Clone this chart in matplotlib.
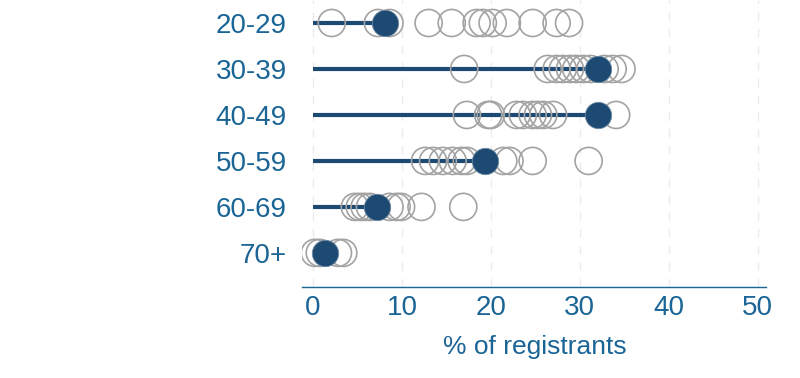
import matplotlib
matplotlib.use("Agg")
import matplotlib.pyplot as plt

plt.rcParams['font.family'] = ['Liberation Sans', 'DejaVu Sans']

categories = ["20-29", "30-39", "40-49", "50-59", "60-69", "70+"]
highlight = [8.1, 32.1, 32.1, 19.3, 7.2, 1.3]
others = [
    [2.1, 7.3, 8.6, 13.0, 15.6, 18.4, 19.1, 20.2, 21.8, 24.7, 27.4, 28.8],
    [17.0, 26.4, 27.4, 28.1, 28.9, 29.6, 30.4, 31.2, 32.8, 33.7, 34.7],
    [17.3, 19.7, 20.0, 22.9, 23.6, 24.7, 25.3, 25.9, 27.0, 34.1],
    [12.6, 13.5, 14.6, 15.7, 16.7, 17.3, 21.4, 22.1, 24.7, 31.0],
    [4.7, 5.25, 5.8, 6.4, 8.6, 9.4, 9.9, 12.2, 16.9],
    [0.2, 0.75, 2.8, 3.4],
]
xticks = [0, 10, 20, 30, 40, 50]
xlabel = "% of registrants"

text_color = "#1a6496"
dark = "#1d4a73"
grey = "#a3a3a3"

fig = plt.figure(figsize=(8, 3.78), dpi=100)
ax = fig.add_axes([0.378, 0.241, 0.58, 0.759])

for i, cat in enumerate(categories):
    ax.plot([0, highlight[i]], [i, i], color=dark, lw=3, solid_capstyle='butt', zorder=2)
    ax.scatter(others[i], [i] * len(others[i]), s=380, facecolors='none',
               edgecolors=grey, linewidths=1.2, zorder=3)
    ax.scatter([highlight[i]], [i], s=360, color=dark, edgecolors='#6f8aa3',
               linewidths=0.6, zorder=4)

ax.set_xlim(-1.2, 51.0)
ax.set_ylim(5.74, -0.5)
ax.set_yticks(range(len(categories)))
ax.set_yticklabels(categories)
ax.set_xticks(xticks)
ax.set_xticklabels([str(t) for t in xticks])
ax.set_xlabel(xlabel, fontsize=19, color=text_color, labelpad=10)

for sp in ['top', 'right', 'left']:
    ax.spines[sp].set_visible(False)
ax.spines['bottom'].set_color(text_color)
ax.spines['bottom'].set_linewidth(1.0)

ax.tick_params(axis='y', length=0, labelsize=20, labelcolor=text_color, pad=11)
ax.tick_params(axis='x', length=0, labelsize=20, labelcolor=text_color, pad=6)

ax.xaxis.grid(True, linestyle=(0, (6, 6)), color='#ebebeb', lw=1)
ax.set_axisbelow(True)

fig.savefig("out.png", dpi=100)
